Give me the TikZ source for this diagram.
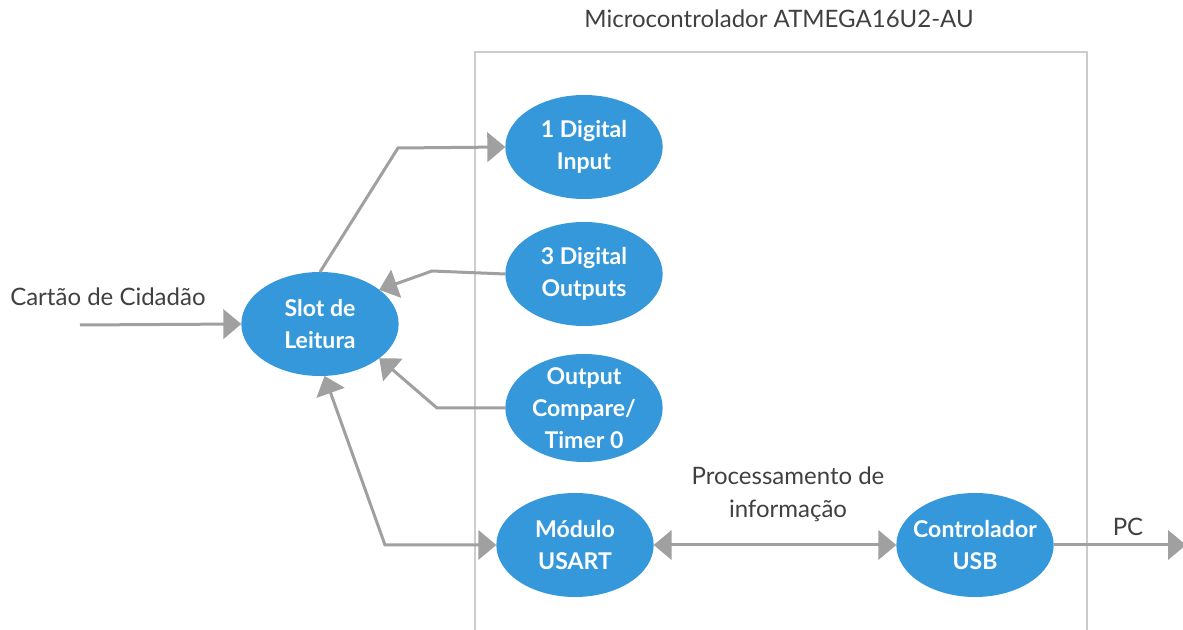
\documentclass[tikz,border=0pt]{standalone}
\usepackage{fontspec}
\setmainfont{Lato}
\usetikzlibrary{arrows.meta,shapes.geometric}
\definecolor{nodeblue}{HTML}{3498DB}
\definecolor{arrowgray}{HTML}{A0A0A0}
\definecolor{boxgray}{HTML}{CCCCCC}
\definecolor{labelgray}{HTML}{404040}
\begin{document}
\begin{tikzpicture}[x=0.75pt,y=-0.75pt,
  blob/.style={ellipse, fill=nodeblue, draw=none, inner sep=0pt, outer sep=0pt,
    minimum width=118pt, minimum height=78pt},
  blobtext/.style={text=white, align=center, inner sep=0pt,
    font=\bfseries\fontsize{17.3}{24}\selectfont},
  lbl/.style={text=labelgray, align=center, inner sep=0pt,
    font=\fontsize{18}{24.5}\selectfont},
  tip/.tip={Triangle[length=13.5pt,width=22pt]},
  conn/.style={draw=arrowgray, line width=2.25pt},
  frame/.style={draw=boxgray, line width=2.2pt}
]
\useasboundingbox (0,0) rectangle (1183,630);
% frame of the microcontroller
\draw[frame] (475,631) -- (475,52) -- (1087,52) -- (1087,631);
\node[lbl, font=\fontsize{18}{20}\selectfont] (title) at (779,19) {Microcontrolador ATMEGA16U2-AU};

% nodes
\node[blob] (slot) at (320,324) {};
\node[blobtext] (slott) at (slot) {Slot de\\Leitura};
\node[blob] (din) at (584,147) {};
\node[blobtext] (dint) at (din) {1 Digital\\Input};
\node[blob] (dout) at (584,274) {};
\node[blobtext] (doutt) at (dout) {3 Digital\\Outputs};
\node[blob, minimum height=81pt] (oc) at (584,408) {};
\node[blobtext] (oct) at (oc) {Output\\Compare/\\Timer 0};
\node[blob] (usart) at (575,545) {};
\node[blobtext] (usartt) at (usart) {Módulo\\USART};
\node[blob] (usb) at (975,545) {};
\node[blobtext] (usbt) at (usb) {Controlador\\USB};

% labels
\node[lbl, anchor=west] (cartao) at (10,297) {Cartão de Cidadão};
\node[lbl] (proc) at (788,494) {Processamento de\\informação};
\node[lbl] (pc) at (1128,527) {PC};

% coordinates
\coordinate (cin) at (80,325);
\coordinate (k1) at (398,148);
\coordinate (k2) at (432,271);
\coordinate (k3) at (437,408);
\coordinate (k4) at (385,545);
\coordinate (pcend) at (1186,545);

% connectors
\draw[conn, -tip] (cin) -- (slot.west);
\draw[conn, -tip] (slot.90) -- (k1) -- (din.west);
\draw[conn, -tip] (dout.west) -- (k2) -- (slot.30);
\draw[conn, -tip] (oc.west) -- (k3) -- (slot.-30);
\draw[conn, tip-tip] (slot.-85) -- (k4) -- (usart.west);
\draw[conn, tip-tip] (usart.east) -- (usb.west);
\draw[conn, -tip] (usb.east) -- (pcend);
\end{tikzpicture}
\end{document}
